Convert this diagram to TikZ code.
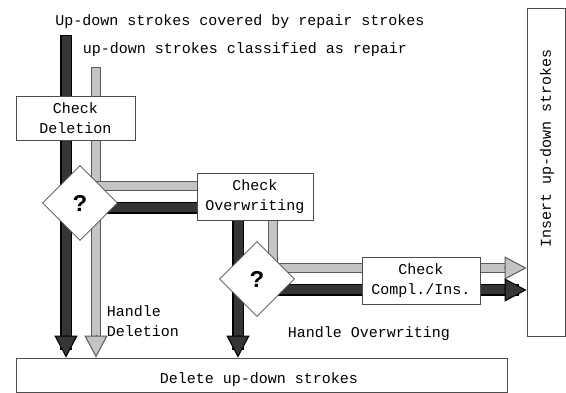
\documentclass[tikz,border=0pt]{standalone}
\usepackage{fontspec}
\setmonofont{Liberation Mono}
\usepackage{tikz}
\usetikzlibrary{shapes.geometric,arrows.meta,calc}
\definecolor{pipedark}{HTML}{353535}
\definecolor{pipelight}{HTML}{C4C4C4}
\definecolor{pipeedge}{HTML}{5A5A5A}
\pgfdeclarelayer{bg}
\pgfsetlayers{bg,main}

\begin{document}
\begin{tikzpicture}[x=1pt,y=-1pt,
  every node/.style={font=\ttfamily\fontsize{15}{20}\selectfont},
  stepbox/.style={draw=black!70, line width=0.8pt, fill=white, inner sep=0pt, align=center},
  query/.style={diamond, draw=black!70, line width=0.8pt, fill=white, inner sep=0pt,
                minimum size=75pt, font=\ttfamily\bfseries\fontsize{24}{24}\selectfont},
  darkpipe/.style={draw=black, line width=1.5pt, double=pipedark, double distance=9pt, line cap=rect},
  lightpipe/.style={draw=pipeedge, line width=1.2pt, double=pipelight, double distance=8pt, line cap=rect},
  darktip/.style={draw=black, line width=1pt, -{Triangle[length=22pt,width=23pt,fill=pipedark]}},
  lighttip/.style={draw=pipeedge, line width=1pt, -{Triangle[length=22pt,width=23pt,fill=pipelight]}}]
        \useasboundingbox (0,0) rectangle (566,393);

        % titles of the two stroke streams
        \node (upcover) at (240,22) {Up-down strokes covered by repair strokes};
        \node (uprepair) at (245,50) {up-down strokes classified as repair};

        % checks and decisions
        \node[stepbox, minimum width=119pt, minimum height=44pt] (chkdel) at (75.5,118) {Check\\Deletion};
        \node[query] (qdel) at (80,203) {?};
        \node[stepbox, minimum width=116pt, minimum height=47pt] (chkover) at (255,196.5) {Check\\Overwriting};
        \node[query] (qover) at (257,279) {?};
        \node[stepbox, minimum width=118pt, minimum height=47pt] (chkcomp) at (421,280.5) {Check\\Compl./Ins.};

        % sinks
        \node[stepbox, minimum width=38pt, minimum height=328pt] (insert) at (546,172) {};
        \node[rotate=90] (insertlbl) at (547,148) {Insert up-down strokes};
        \node[stepbox, minimum width=491pt, minimum height=34pt] (delbox) at (261.5,375) {};
        \node (dellbl) at (259,380) {Delete up-down strokes};

        \node[align=left] (hdel) at (143,321) {Handle\\Deletion};
        \node (hover) at (369,334) {Handle Overwriting};

        \coordinate (srcdark) at (66,41);
        \coordinate (srclight) at (96,72);
        \coordinate (ovlight) at ($(qdel)+(0,-17)$);
        \coordinate (ovdark) at ($(qdel)+(0,5)$);
        \coordinate (cmpdark) at ($(chkover.south)+(-17,0)$);
        \coordinate (cmplight) at ($(chkover.south)+(18,0)$);
        \coordinate (inslight) at ($(qover)+(0,-11)$);
        \coordinate (insdark) at ($(qover)+(0,11)$);

        \begin{pgfonlayer}{bg}
            % stream into deletion
            \draw[darkpipe, shorten >=14pt] (srcdark) -- (srcdark |- delbox.north);
            \draw[darktip] ($(srcdark |- delbox.north)+(0,-23)$) -- (srcdark |- delbox.north);
            \draw[lightpipe, shorten >=14pt] (srclight) -- (srclight |- delbox.north);
            \draw[lighttip] ($(srclight |- delbox.north)+(0,-23)$) -- (srclight |- delbox.north);
            % to overwriting check
            \draw[lightpipe] (ovlight) -- (ovlight -| chkover.west);
            \draw[darkpipe] (ovdark) -- (ovdark -| chkover.west);
            % out of overwriting check
            \draw[darkpipe, shorten >=14pt] (cmpdark) -- (cmpdark |- delbox.north);
            \draw[darktip] ($(cmpdark |- delbox.north)+(0,-23)$) -- (cmpdark |- delbox.north);
            \draw[lightpipe, shorten >=14pt] (cmplight) |- (inslight -| insert.west);
            \draw[lighttip] ($(inslight -| insert.west)+(-23,0)$) -- (inslight -| insert.west);
            \draw[darkpipe, shorten >=14pt] (insdark) -- (insdark -| insert.west);
            \draw[darktip] ($(insdark -| insert.west)+(-23,0)$) -- (insdark -| insert.west);
        \end{pgfonlayer}
\end{tikzpicture}
\end{document}
